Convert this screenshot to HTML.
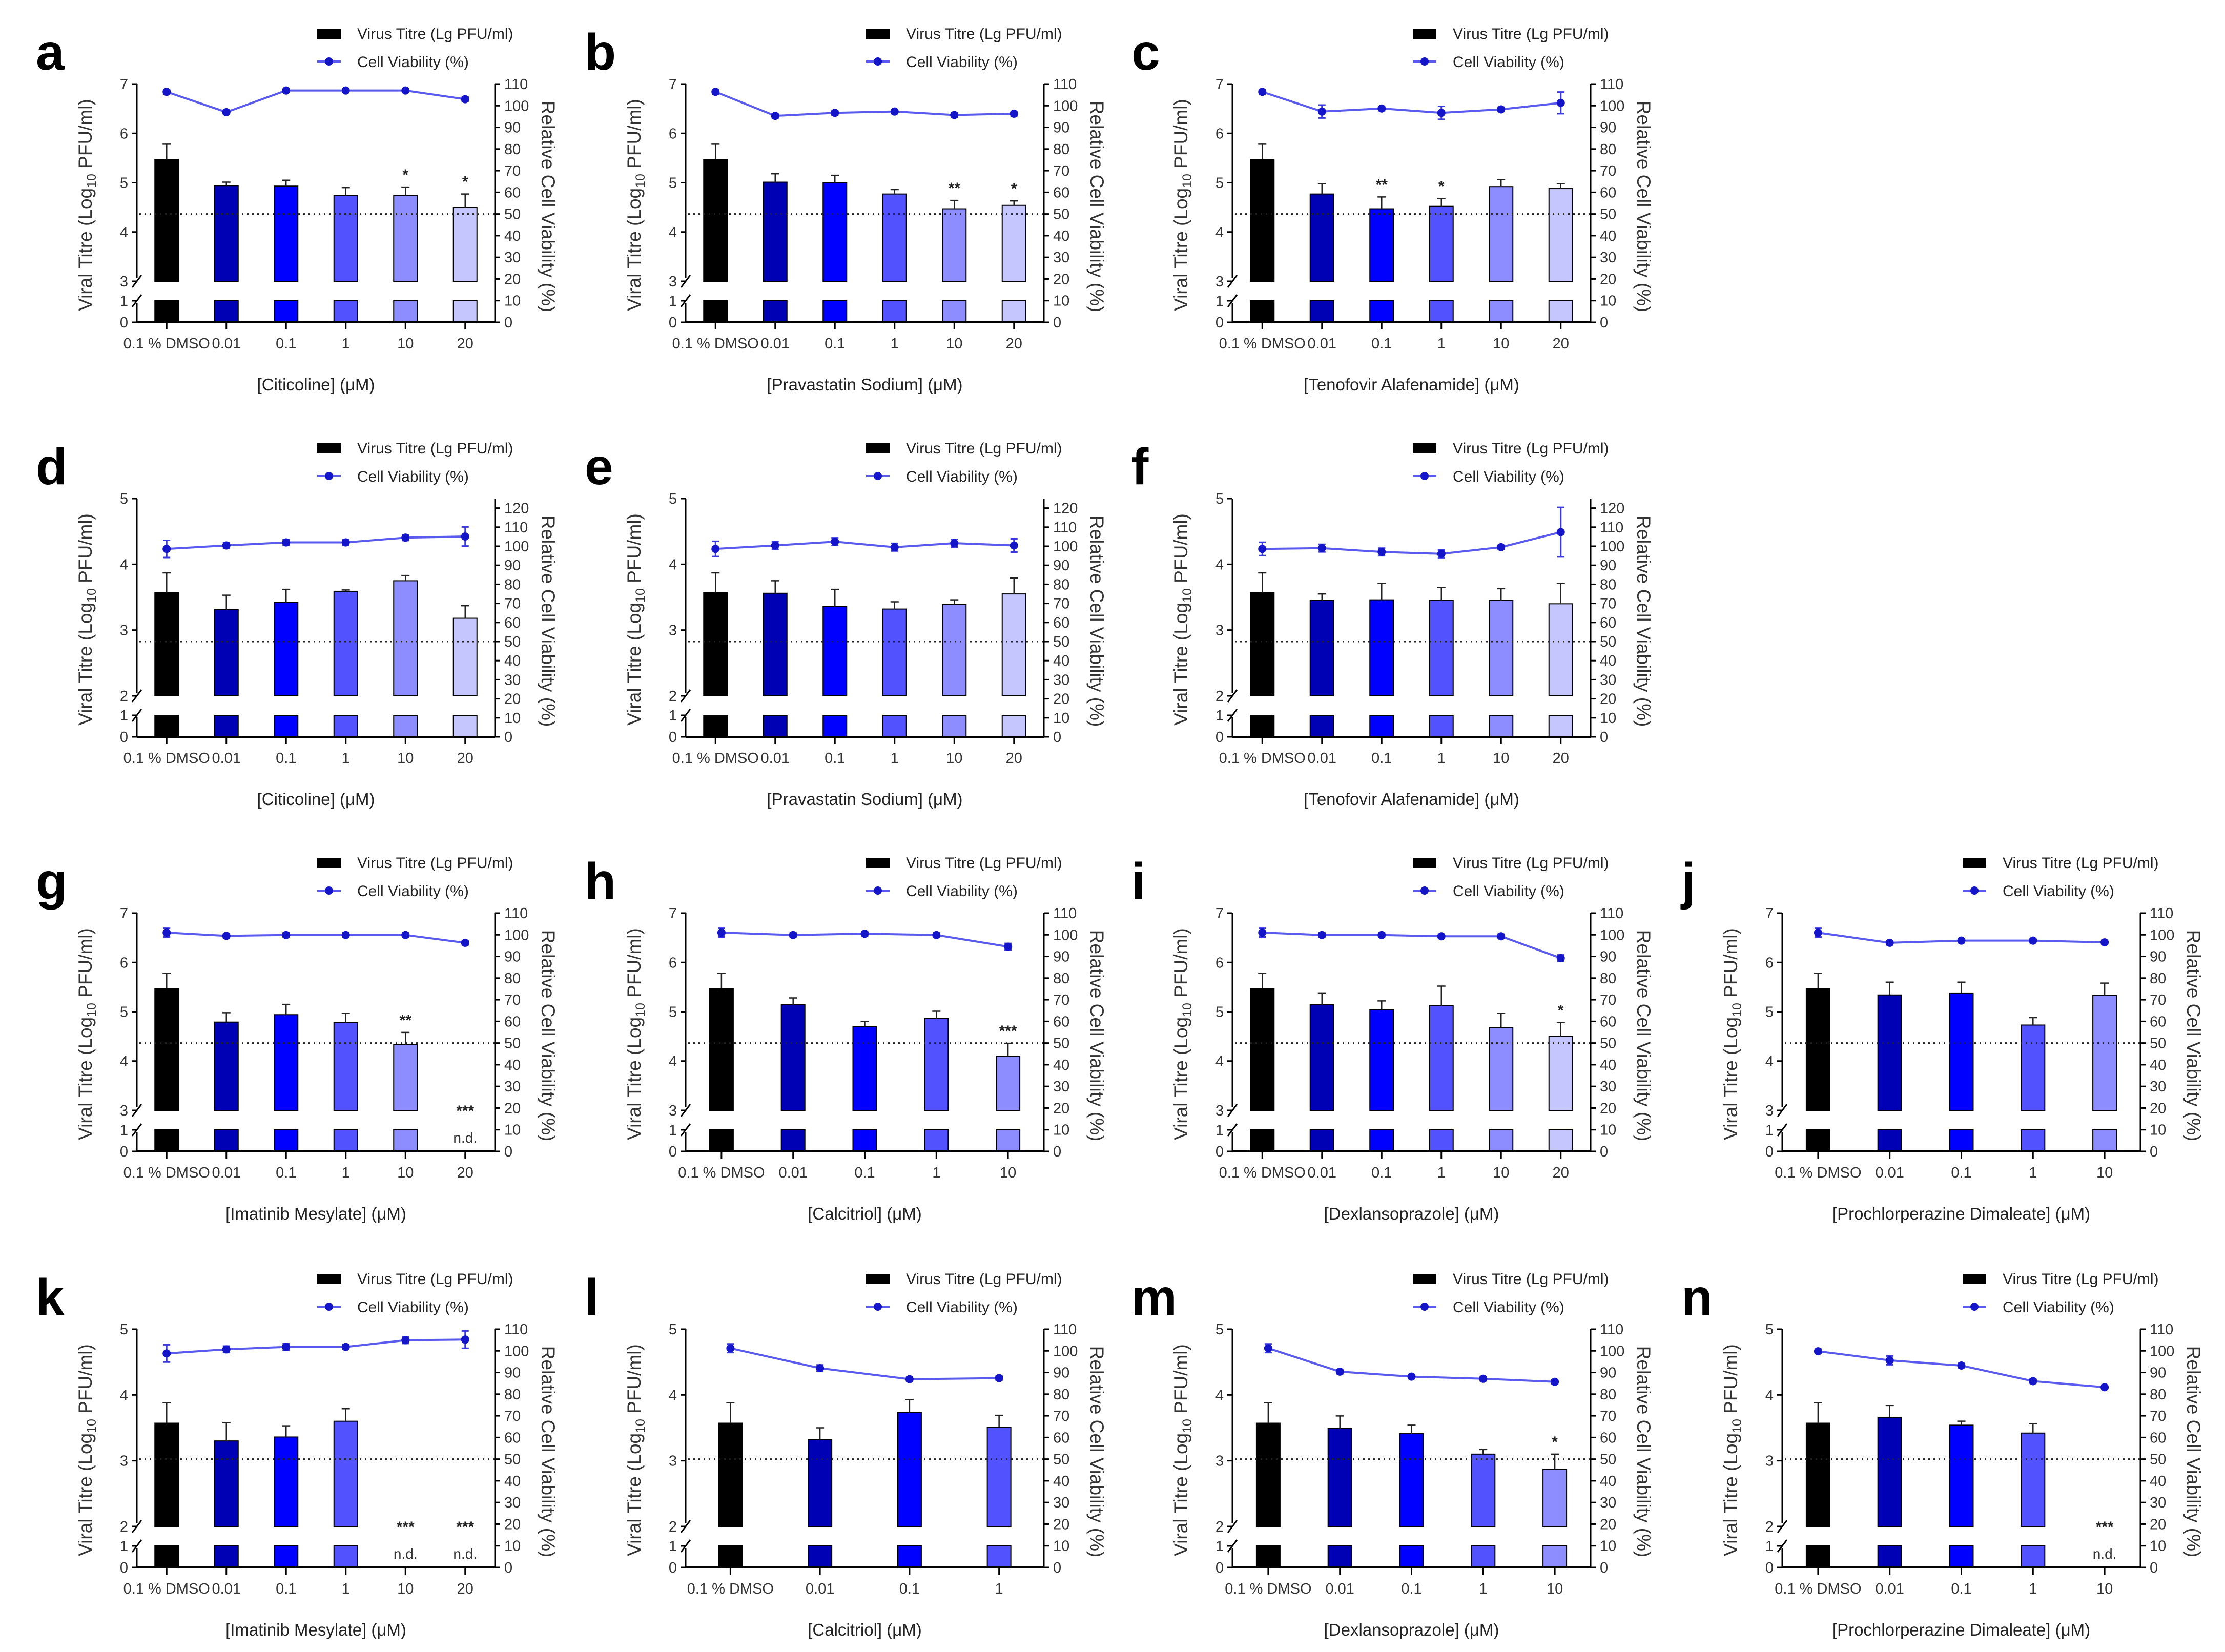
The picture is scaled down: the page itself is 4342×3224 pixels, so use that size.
<!DOCTYPE html>
<html><head><meta charset="utf-8"><title>Viral titre and cell viability panels</title>
<style>
html,body{margin:0;padding:0;background:#fff;}
svg{display:block;font-family:"Liberation Sans",Arial,sans-serif;}
</style></head>
<body>
<svg id="fig" xmlns="http://www.w3.org/2000/svg" width="4342" height="3224" viewBox="0 0 4342 3224">
<rect x="0" y="0" width="4342" height="3224" fill="#fff"/>
</svg>
<script>
const panelLetters = ['a','b','c','d','e','f','g','h','i','j','k','l','m','n'];
const cats6 = ['0.1 % DMSO','0.01','0.1','1','10','20'];
const cats5 = ['0.1 % DMSO','0.01','0.1','1','10'];
const cats4 = ['0.1 % DMSO','0.01','0.1','1'];
const panelCategories = [cats6,cats6,cats6,cats6,cats6,cats6,cats6,cats5,cats6,cats5,cats6,cats4,cats5,cats5];
const drugNames = ['Citicoline','Pravastatin Sodium','Tenofovir Alafenamide','Citicoline','Pravastatin Sodium','Tenofovir Alafenamide','Imatinib Mesylate','Calcitriol','Dexlansoprazole','Prochlorperazine Dimaleate','Imatinib Mesylate','Calcitriol','Dexlansoprazole','Prochlorperazine Dimaleate'];
const titreValues = [
[5.47,4.94,4.93,4.74,4.74,4.50],
[5.47,5.01,5.00,4.77,4.47,4.54],
[5.47,4.77,4.47,4.52,4.92,4.88],
[3.57,3.31,3.42,3.59,3.75,3.18],
[3.57,3.56,3.36,3.32,3.39,3.55],
[3.57,3.45,3.46,3.45,3.45,3.40],
[5.47,4.79,4.94,4.78,4.33,null],
[5.47,5.14,4.70,4.86,4.10],
[5.47,5.14,5.04,5.12,4.68,4.50],
[5.47,5.34,5.38,4.73,5.33],
[3.57,3.30,3.36,3.60,null,null],
[3.57,3.32,3.73,3.51],
[3.57,3.49,3.41,3.10,2.87],
[3.57,3.66,3.54,3.42,null]
];
const titreErrors = [
[0.31,0.07,0.12,0.16,0.17,0.27],
[0.31,0.17,0.15,0.09,0.17,0.09],
[0.31,0.21,0.24,0.16,0.14,0.10],
[0.30,0.22,0.20,0.02,0.08,0.19],
[0.30,0.19,0.26,0.11,0.07,0.24],
[0.30,0.10,0.25,0.20,0.18,0.31],
[0.31,0.19,0.21,0.19,0.25,0],
[0.31,0.14,0.10,0.15,0.26],
[0.31,0.24,0.18,0.40,0.29,0.28],
[0.31,0.26,0.22,0.15,0.25],
[0.31,0.28,0.17,0.19,0,0],
[0.31,0.18,0.20,0.18],
[0.31,0.19,0.13,0.07,0.23],
[0.31,0.18,0.06,0.14,0]
];
const viabilityValues = [
[106.4,97,107,107,107,103],
[106.4,95.3,96.7,97.3,95.7,96.3],
[106.4,97.3,98.7,96.7,98.3,101.3],
[98.6,100.4,102,102,104.5,105.1],
[98.6,100.4,102.4,99.5,101.6,100.4],
[98.6,99,97,96,99.5,107.4],
[101,99.5,99.9,99.9,99.9,96.3],
[101,99.9,100.5,99.9,94.5],
[101,99.9,99.9,99.3,99.3,89.2],
[101,96.3,97.3,97.3,96.5],
[98.8,100.7,101.8,101.8,104.9,105.2],
[101.2,92,86.9,87.4],
[101.2,90.4,88.1,87.1,85.7],
[99.8,95.6,93.2,86,83.2]
];
const viabilityErrors = [
[1,1,0.5,0.5,0.5,1],
[1,1,1,1,1,1],
[1,3,1,3,1,5],
[4.5,1.5,1.5,1.5,1.5,5],
[4,2,2,2,2,3.5],
[3.5,2,2,2,1,13],
[2,1,1,1,1,1],
[2,1,1,1,1.5],
[2,1,1,1,1,1.5],
[2,1,1,1,1],
[4,1.5,1.5,1,1.5,4],
[2,1.5,1,1],
[2,1,1,1,1],
[1,2,1,1,1]
];
const starLabels = [
['','','','','*','*'],
['','','','','**','*'],
['','','**','*','',''],
['','','','','',''],
['','','','','',''],
['','','','','',''],
['','','','','**','***'],
['','','','','***'],
['','','','','','*'],
['','','','',''],
['','','','','***','***'],
['','','',''],
['','','','','*'],
['','','','','***']
];
const leftTicksA = [3,4,5,6,7];
const leftTicksB = [2,3,4,5];
const lowerTicks = [0,1];
const rightTicks110 = [0,10,20,30,40,50,60,70,80,90,100,110];
const rightTicks120 = [0,10,20,30,40,50,60,70,80,90,100,110,120];
const thresholdPercent = 50;

// layout (not data)
const colX = [0,1071,2138,3211];
const rowY = [0,809,1618,2430];
const panelCol = [0,1,2,0,1,2,0,1,2,3,0,1,2,3];
const panelRow = [0,0,0,1,1,1,2,2,2,2,3,3,3,3];
const barColors = ['#000000','#0000b4','#0000ff','#5252ff','#8d8dff','#c6c6ff'];
const AX_L=267, AX_R=966, Y_TOP=164, Y_BRK=549, Y_ONE=587, Y_ZERO=629;
const NS='http://www.w3.org/2000/svg';
const svg=document.getElementById('fig');

function mk(tag,attrs,parent){const e=document.createElementNS(NS,tag);for(const k in attrs)e.setAttribute(k,attrs[k]);parent.appendChild(e);return e;}

panelLetters.forEach((letter,p)=>{
  const row=panelRow[p];
  const tall=(row===0||row===2);
  const lMin=tall?3:2, lMax=tall?7:5;
  const leftTicks=tall?leftTicksA:leftTicksB;
  const rMax=(row===1)?125:110;
  const rTicks=(row===1)?rightTicks120:rightTicks110;
  const cats=panelCategories[p];
  const n=cats.length;
  const yL=v=> v<=1 ? Y_ZERO-v*(Y_ZERO-Y_ONE) : Y_BRK-(v-lMin)*(Y_BRK-Y_TOP)/(lMax-lMin);
  const yR=v=> Y_ZERO-v*(Y_ZERO-Y_TOP)/rMax;
  const xC=i=> AX_L+(i+0.5)*(AX_R-AX_L)/n;

  const g=mk('g',{transform:`translate(${colX[panelCol[p]]},${rowY[row]})`},svg);
  
  

  const lt=mk('text',{x:70,y:136,'font-size':100,'font-weight':'bold',fill:'#000'},g);
  
  
  lt.textContent=letter;

  // legend
  const lg=mk('g',{},g);
  
  
  const lb=mk('rect',{x:619,y:56,width:46,height:20,fill:'#000'},lg);
  
  
  const lt1=mk('text',{x:697,y:76,'font-size':30,fill:'#222'},lg);
  
  
  lt1.textContent='Virus Titre (Lg PFU/ml)';
  const ll=mk('line',{x1:619,y1:120,x2:665,y2:120,stroke:'#5a5aee','stroke-width':4},lg);
  
  
  const lm=mk('circle',{cx:642,cy:120,r:8,fill:'#1414c8'},lg);
  
  
  const lt2=mk('text',{x:697,y:131,'font-size':30,fill:'#222'},lg);
  
  
  lt2.textContent='Cell Viability (%)';

  // bars
  titreValues[p].forEach((v,i)=>{
    if(v===null){
      const nd=mk('text',{x:xC(i),y:612,'font-size':28,'text-anchor':'middle',fill:'#333'},g);
      
      
      nd.textContent='n.d.';
      return;
    }
    const x=xC(i)-23, col=barColors[i];
    const b1=mk('rect',{x:x,y:yL(v),width:46,height:Y_BRK-yL(v),fill:col,stroke:'#000','stroke-width':2},g);
    
    
    const b2=mk('rect',{x:x,y:Y_ONE,width:46,height:Y_ZERO-Y_ONE,fill:col,stroke:'#000','stroke-width':2},g);
    
    
    const eTop=yL(v+titreErrors[p][i]);
    const eb=mk('path',{d:`M${xC(i)},${yL(v)}V${eTop}M${xC(i)-8},${eTop}H${xC(i)+8}`,stroke:'#222','stroke-width':2.5,fill:'none'},g);
    
    
  });
  // stars
  starLabels[p].forEach((s,i)=>{
    if(!s) return;
    const v=titreValues[p][i];
    const y= v===null ? 560 : yL(v+titreErrors[p][i])-14;
    const st=mk('text',{x:xC(i),y:y,'font-size':30,'text-anchor':'middle','font-weight':'bold',fill:'#222'},g);
    
    
    st.textContent=s;
  });

  // threshold dotted line
  const th=mk('line',{x1:AX_L+5,y1:yR(thresholdPercent),x2:AX_R,y2:yR(thresholdPercent),stroke:'#222','stroke-width':3,'stroke-dasharray':'3 7'},g);
  
  

  // axes
  const la=mk('path',{d:`M${AX_L},${Y_TOP}V${Y_BRK-6}M${AX_L-9},${Y_BRK+12}L${AX_L+9},${Y_BRK-12}M${AX_L-9},${Y_ONE+12}L${AX_L+9},${Y_ONE-12}M${AX_L},${Y_ONE+4}V${Y_ZERO}`,stroke:'#000','stroke-width':3,fill:'none'},g);
  
  
  const xa=mk('line',{x1:AX_L,y1:Y_ZERO,x2:AX_R,y2:Y_ZERO,stroke:'#000','stroke-width':4},g);
  
  
  const ra=mk('line',{x1:AX_R,y1:Y_TOP,x2:AX_R,y2:Y_ZERO,stroke:'#000','stroke-width':3},g);
  
  

  leftTicks.concat(lowerTicks).forEach(t=>{
    const y=yL(t);
    const tk=mk('line',{x1:AX_L-10,y1:y,x2:AX_L,y2:y,stroke:'#000','stroke-width':3},g);
    
    
    const tl=mk('text',{x:AX_L-17,y:y+10,'font-size':29,'text-anchor':'end',fill:'#333'},g);
    
    
    tl.textContent=t;
  });
  rTicks.forEach(t=>{
    const y=yR(t);
    const tk=mk('line',{x1:AX_R,y1:y,x2:AX_R+10,y2:y,stroke:'#000','stroke-width':3},g);
    
    
    const tl=mk('text',{x:AX_R+18,y:y+10,'font-size':29,fill:'#333'},g);
    
    
    tl.textContent=t;
  });
  cats.forEach((c,i)=>{
    const tk=mk('line',{x1:xC(i),y1:Y_ZERO,x2:xC(i),y2:Y_ZERO+14,stroke:'#000','stroke-width':3},g);
    
    
    const tl=mk('text',{x:xC(i),y:680,'font-size':29,'text-anchor':'middle',fill:'#333'},g);
    
    
    tl.textContent=c;
  });

  // titles
  const xt=mk('text',{x:(AX_L+AX_R)/2,y:762,'font-size':33,'text-anchor':'middle',fill:'#222'},g);
  
  
  xt.textContent='['+drugNames[p]+'] (μM)';
  const yt=mk('text',{x:0,y:0,'font-size':37,'text-anchor':'middle',fill:'#333',transform:'translate(179,400) rotate(-90)'},g);
  
  
  yt.appendChild(document.createTextNode('Viral Titre (Log'));
  const sub=mk('tspan',{'font-size':25,dy:8},yt);
  sub.textContent='10';
  const rest=mk('tspan',{dy:-8},yt);
  rest.textContent=' PFU/ml)';
  const rt=mk('text',{x:0,y:0,'font-size':37,'text-anchor':'middle',fill:'#333',transform:'translate(1057,403) rotate(90)'},g);
  
  
  rt.textContent='Relative Cell Viability (%)';

  // viability line
  const vals=viabilityValues[p];
  const pts=vals.map((v,i)=>xC(i)+','+yR(v)).join(' ');
  const pl=mk('polyline',{points:pts,fill:'none',stroke:'#5a5aee','stroke-width':4},g);
  
  
  vals.forEach((v,i)=>{
    const e=viabilityErrors[p][i];
    const y1=yR(v+e), y2=yR(v-e), x=xC(i);
    const eb=mk('path',{d:`M${x},${y1}V${y2}M${x-7},${y1}H${x+7}M${x-7},${y2}H${x+7}`,stroke:'#3a3ae0','stroke-width':3,fill:'none'},g);
    
    
    const m=mk('circle',{cx:x,cy:yR(v),r:8,fill:'#1414c8'},g);
    
    
  });
});
</script>
</body></html>
